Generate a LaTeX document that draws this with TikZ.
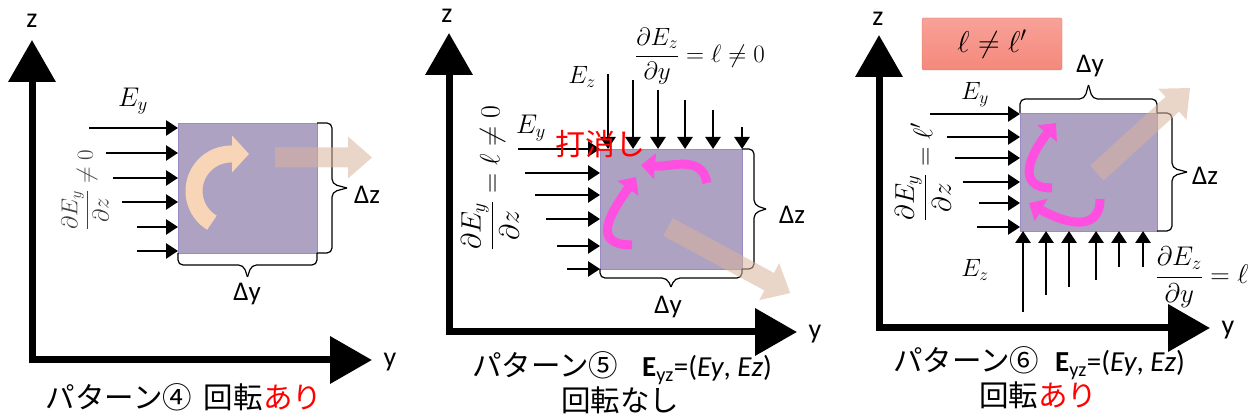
\RequirePackage{fix-cm}
\documentclass[tikz,border=0pt]{standalone}
\usepackage{fontspec}
\setsansfont{Carlito}
\newfontfamily\jpfont{Noto Sans CJK JP}
\usetikzlibrary{arrows.meta,calc}
\definecolor{blockfill}{HTML}{AEA2C3}
\definecolor{blockline}{HTML}{9A8CC2}
\definecolor{peach}{HTML}{F8D5B6}
\definecolor{ghosttan}{HTML}{D9B49C}
\definecolor{spinpink}{HTML}{FF4FE0}
\definecolor{salmontop}{HTML}{F8A298}
\definecolor{salmonbot}{HTML}{F5887C}
\definecolor{salmonline}{HTML}{E07468}

\begin{document}
\begin{tikzpicture}[x=1pt,y=1pt,
  axis/.style={line width=7pt,{Triangle[length=42pt,width=46pt]}-{Triangle[length=42pt,width=46pt]}},
  field/.style={line width=2.8pt,-{Triangle[length=12pt,width=15pt]}},
  block/.style={draw=blockline,fill=blockfill,line width=0.8pt,inner sep=0pt,outer sep=0pt},
  bracket/.style={line width=1.2pt,rounded corners=5pt},
  spin/.style={spinpink,line width=9pt,-{Triangle[length=14pt,width=25pt]}},
  ghost/.style={fill=ghosttan,fill opacity=0.55},
  hint/.style={draw=salmonline,top color=salmontop,bottom color=salmonbot,rounded corners=2pt,minimum width=140,minimum height=52},
  axlbl/.style={font=\sffamily\fontsize{28}{30}\selectfont,inner sep=0pt},
  dlbl/.style={font=\sffamily\fontsize{27}{30}\selectfont,inner sep=0pt},
  captxt/.style={font=\jpfont\fontsize{29.5}{32}\selectfont,inner sep=0pt},
  mth/.style={inner sep=0pt,font=\fontsize{#1}{#1}\selectfont}]
\useasboundingbox (0,0) rectangle (1257,419);

% pattern 4
\coordinate (o1) at (32,59);
\coordinate (z1) at (32,379);
\coordinate (y1) at (372,59);
\draw[axis] (z1) -- (o1) -- (y1);
\node[axlbl] (z1l) at (32,398) {z};
\node[axlbl] (y1l) at (390,57) {y};
\node[block,minimum width=139,minimum height=130] (r1) at (247.5,231) {};
\draw[peach,line width=17pt,-{Triangle[length=17pt,width=36pt]}] ([shift={(239:37)}]231,228) arc[start angle=239,end angle=90,radius=37] -- ++(18,0);
\foreach \xs/\yy [count=\i] in {89/291,106/266,113/241,122/217,137/192,137/168}{
  \coordinate (a1s\i) at (\xs,\yy);
  \draw[field] (a1s\i) -- (a1s\i -| r1.west);
}
\node[dlbl] (dz1) at (367,224) {Δz};
\node[dlbl] (dy1) at (247,125) {Δy};
\node[mth=27] (ey1) at (133,318) {$E_y$};
\node[mth=23,rotate=90,text=black!75] (grad1) at (85,229) {$\displaystyle\frac{\partial E_y}{\partial z}\neq 0$};
\node[captxt] (cap1) at (184,22) {パターン④\hspace{12pt}回転\textcolor{red}{あり}};

% pattern 5
\coordinate (o2) at (449,87);
\coordinate (z2) at (449,386);
\coordinate (y2) at (797,87);
\draw[axis] (z2) -- (o2) -- (y2);
\node[axlbl] (z2l) at (447,403) {z};
\node[axlbl] (y2l) at (815,85) {y};
\node[block,minimum width=142,minimum height=120] (r2) at (671,210) {};
\foreach \xs/\yy [count=\i] in {518/270,525/246,535/224,546/200,557/173,567/150}{
  \coordinate (a2s\i) at (\xs,\yy);
  \draw[field] (a2s\i) -- (a2s\i -| r2.west);
}
\foreach \xx/\yy [count=\i] in {608/345,633/339,658/329,685/319,713/309,742/292}{
  \coordinate (d2s\i) at (\xx,\yy);
  \draw[field] (d2s\i) -- (d2s\i |- r2.north);
}
\draw[spin] (707,236) to[out=100,in=-5,looseness=1.1] (641,254);
\draw[spin] (632,174) to[out=180,in=235,looseness=1.6] (636,242);
\node[dlbl] (dz2) at (792,204) {Δz};
\node[dlbl] (dy2) at (668,112) {Δy};
\node[mth=25] (ez2) at (582,342) {$E_z$};
\node[mth=27] (ey2) at (531,291) {$E_y$};
\node[mth=25] (gradz2) at (700,363) {$\displaystyle\frac{\partial E_z}{\partial y}=\ell\neq 0$};
\node[mth=28,rotate=90] (grady2) at (490,241) {$\displaystyle\frac{\partial E_y}{\partial z}=\ell\neq 0$};
\node[captxt,text=red,font=\jpfont\fontsize{30}{32}\selectfont] (cancel2) at (600,275) {打消し};
\node[captxt] (cap2) at (622,51) {パターン⑤\hspace{24pt}{\sffamily\fontsize{29}{30}\selectfont\textbf{E}\textsubscript{yz}=(\textit{Ey}, \textit{Ez})}};
\node[captxt] (cap2b) at (620,19) {回転なし};

% pattern 6
\coordinate (o3) at (879,91);
\coordinate (z3) at (879,384);
\coordinate (y3) at (1210,91);
\draw[axis] (z3) -- (o3) -- (y3);
\node[axlbl] (z3l) at (878,400) {z};
\node[axlbl] (y3l) at (1228,89) {y};
\node[hint,mth=30] (neq3) at (992,375) {$\ell\neq\ell'$};
\node[block,minimum width=137,minimum height=118] (r3) at (1088.5,247) {};
\foreach \xs/\yy [count=\i] in {930/305,947/282,955/261,963/237,979/216,977/192}{
  \coordinate (a3s\i) at (\xs,\yy);
  \draw[field] (a3s\i) -- (a3s\i -| r3.west);
}
\foreach \xx/\yy [count=\i] in {1023/107,1046/124,1069/132,1096/139,1119/152,1143/152}{
  \coordinate (u3s\i) at (\xx,\yy);
  \draw[field] (u3s\i) -- (u3s\i |- r3.south);
}
\draw[spin] (1052,231) to[out=180,in=230,looseness=1.5] (1056,296);
\draw[spin] (1100,220) to[out=-90,in=-30,looseness=1.3] (1029,216);
\node[dlbl] (dy3) at (1090,353) {Δy};
\node[dlbl] (dz3) at (1205,243) {Δz};
\node[mth=25] (ey3) at (975,324) {$E_y$};
\node[mth=25] (ez3) at (975,149) {$E_z$};
\node[mth=27,rotate=90] (grady3) at (923,247) {$\displaystyle\frac{\partial E_y}{\partial z}=\ell'$};
\node[mth=27] (gradz3) at (1202,142) {$\displaystyle\frac{\partial E_z}{\partial y}=\ell$};
\node[captxt] (cap3) at (1039,56) {パターン⑥\hspace{16pt}{\sffamily\fontsize{29}{30}\selectfont\textbf{E}\textsubscript{yz}=(\textit{Ey}, \textit{Ez})}};
\node[captxt] (cap3b) at (1038,24) {回転\textcolor{red}{あり}};

% braces: corner, corner, outward direction, depth
\foreach \p/\q/\ox/\oy/\amp in {r1.north east/r1.south east/1/0/30, r1.south west/r1.south east/0/-1/24,
    r2.north east/r2.south east/1/0/24, r2.south west/r2.south east/0/-1/18,
    r3.north west/r3.north east/0/1/28, r3.north east/r3.south east/1/0/30}{
  \coordinate (bm) at ($(\p)!.5!(\q)$);
  \draw[bracket] (\p) -- ++({\amp*\ox/2},{\amp*\oy/2}) -- ($(bm)!4pt!(\p)+({\amp*\ox/2},{\amp*\oy/2})$) -- ($(bm)+({\amp*\ox},{\amp*\oy})$);
  \draw[bracket] (\q) -- ++({\amp*\ox/2},{\amp*\oy/2}) -- ($(bm)!4pt!(\q)+({\amp*\ox/2},{\amp*\oy/2})$) -- ($(bm)+({\amp*\ox},{\amp*\oy})$);
}

% translucent arrows
\foreach \x/\y/\ang/\len in {275/261.5/0/97,668/192/-28.4/139,1097/246/42.4/126}
  \fill[ghost,shift={(\x,\y)},rotate=\ang] (0,-10) -- ({\len-24},-10) -- ({\len-24},-21) -- (\len,0) -- ({\len-24},21) -- ({\len-24},10) -- (0,10) -- cycle;
\end{tikzpicture}
\end{document}
